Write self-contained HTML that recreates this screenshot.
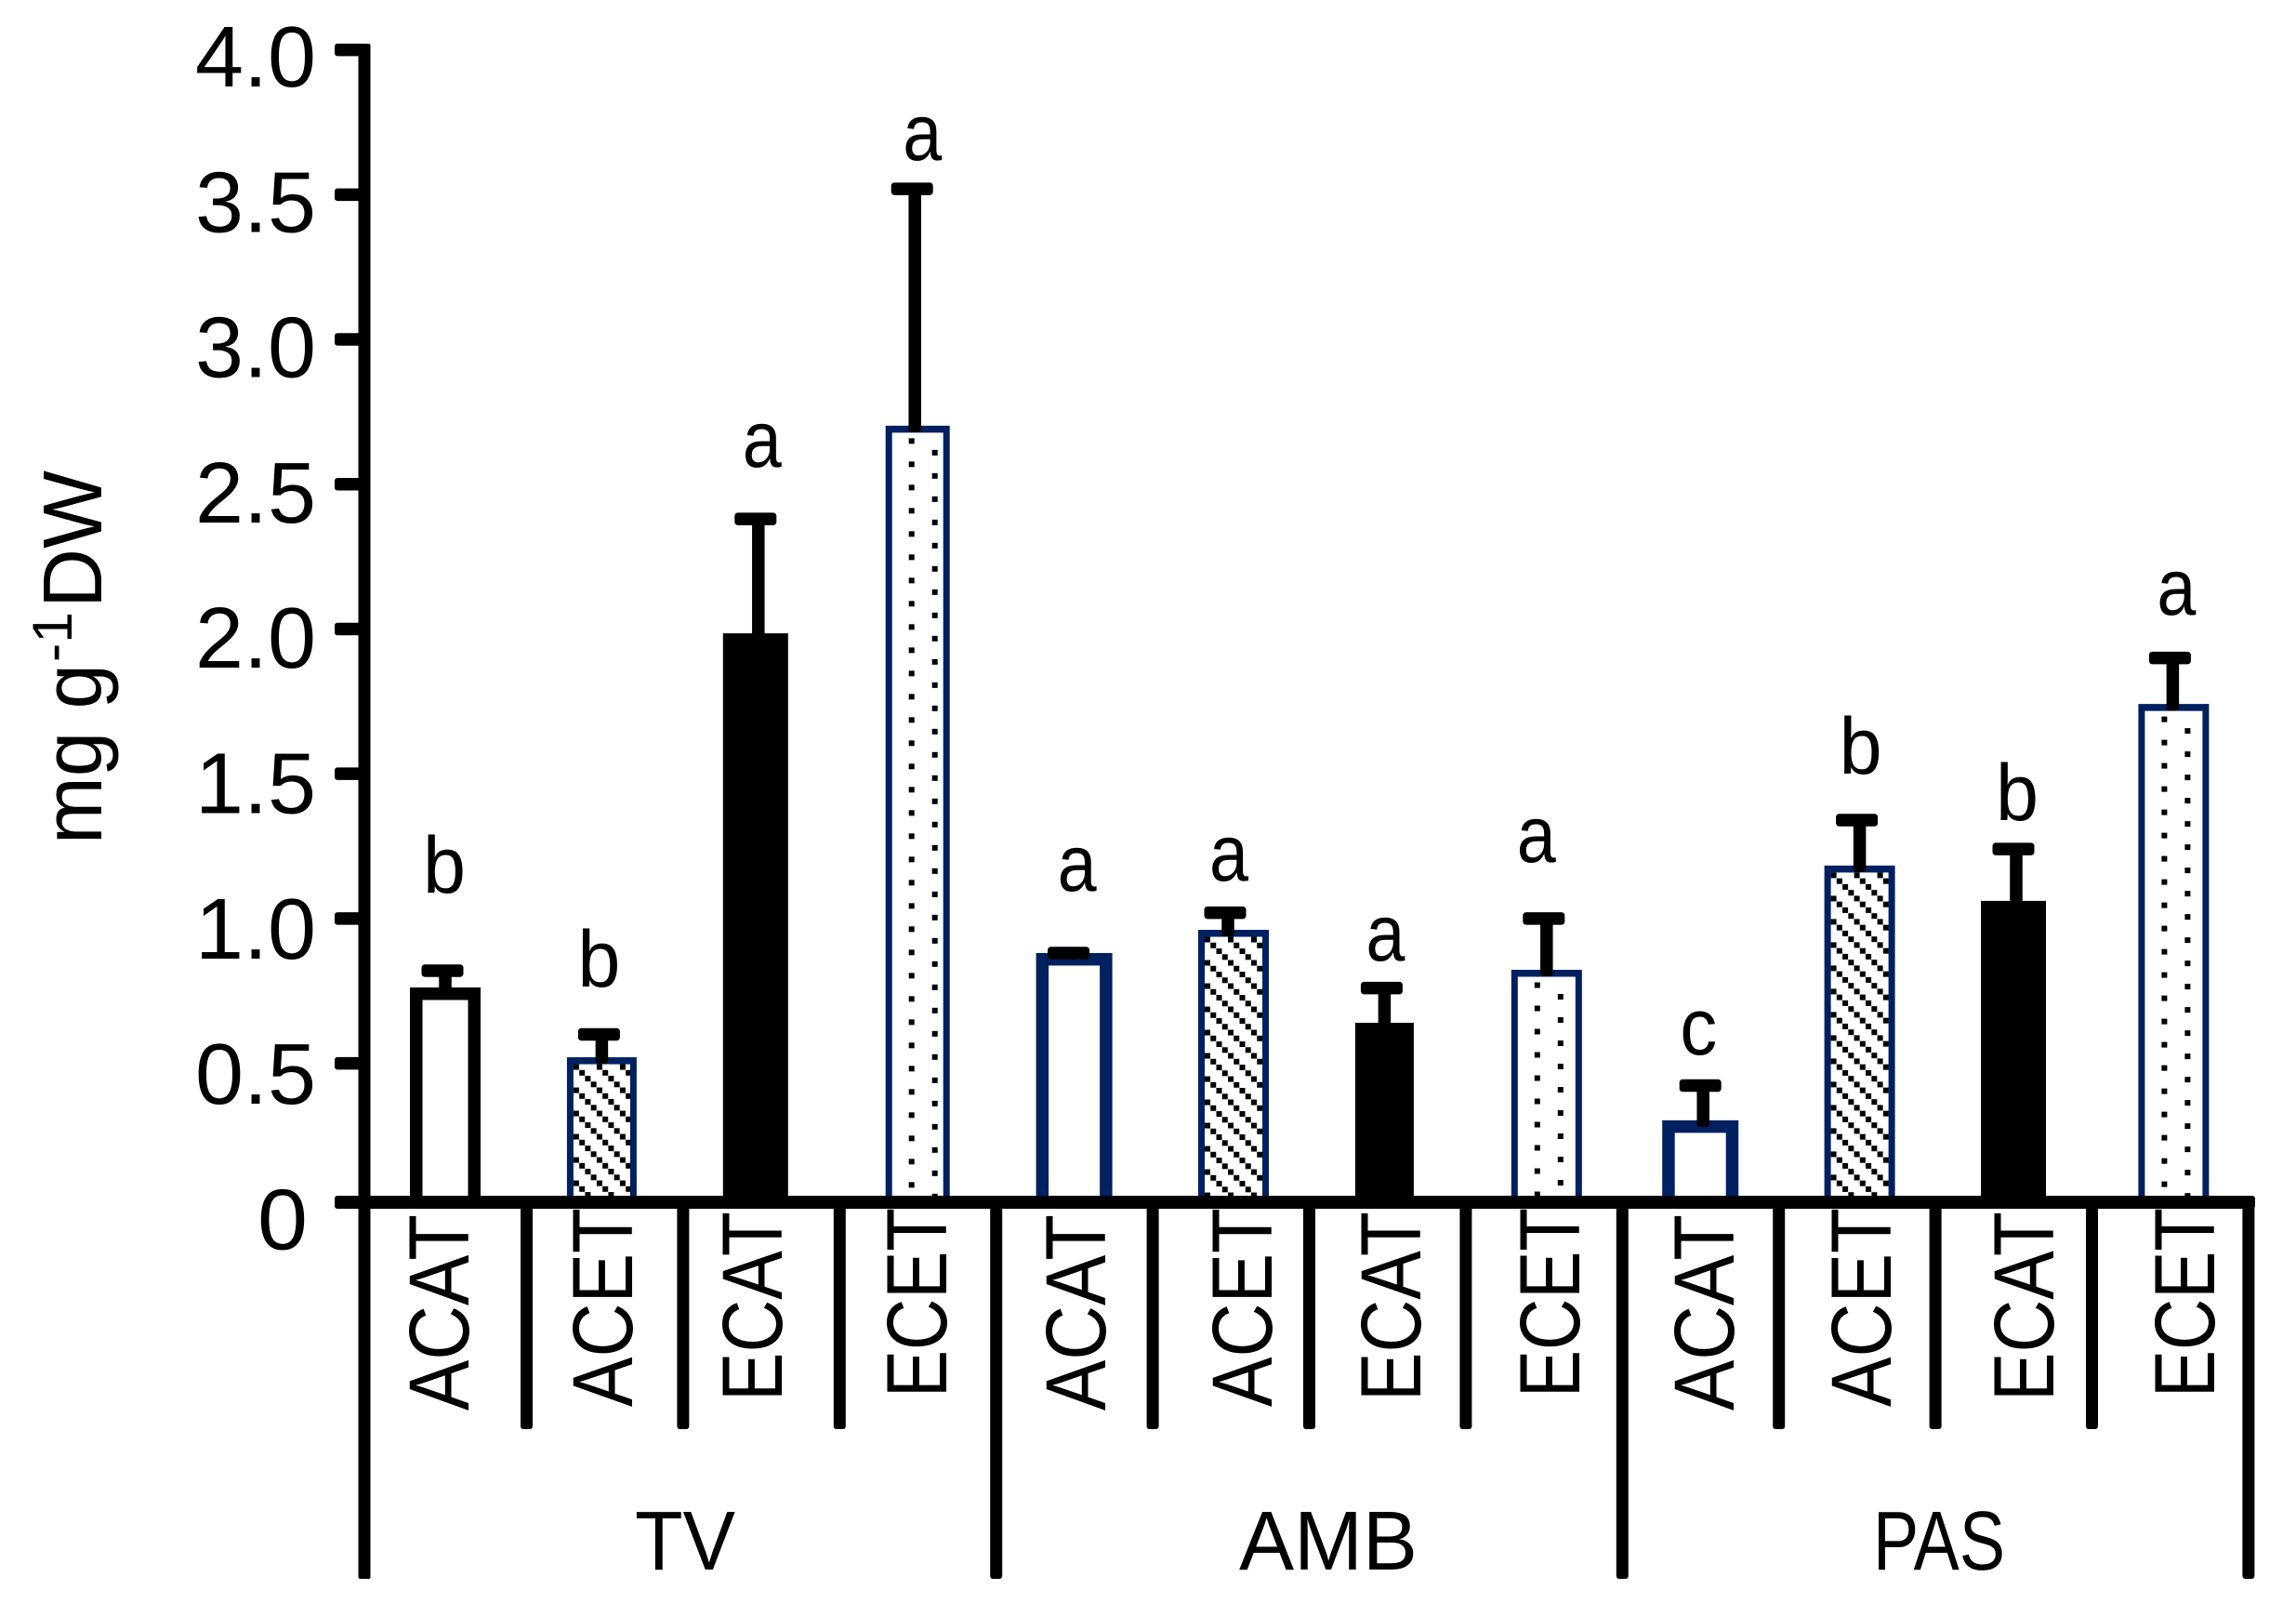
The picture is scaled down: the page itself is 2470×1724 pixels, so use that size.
<!DOCTYPE html>
<html lang="en">
<head>
<meta charset="utf-8">
<title>Bar chart: mg g-1 DW by treatment and site</title>
<style>
html,body{margin:0;padding:0;background:#fff;}
svg{display:block;}
text{font-family:"Liberation Sans",sans-serif;fill:#000;}
</style>
</head>
<body>
<svg id="chart" xmlns="http://www.w3.org/2000/svg" width="2470" height="1724" viewBox="0 0 2470 1724">
  <rect x="0" y="0" width="2470" height="1724" fill="#ffffff"/>
  <defs id="defs"></defs>
  <g id="bars"></g>
  <g id="errors"></g>
  <g id="axes"></g>
  <g id="letters"></g>
  <g id="xlabels"></g>
  <g id="ylabels"></g>
  <g>
    <text transform="translate(109 908) rotate(-90)" font-size="90" textLength="194" lengthAdjust="spacingAndGlyphs">mg g</text>
    <text transform="translate(77 712) rotate(-90)" font-size="60" textLength="54" lengthAdjust="spacingAndGlyphs">-1</text>
    <text transform="translate(109 654) rotate(-90)" font-size="90" textLength="148" lengthAdjust="spacingAndGlyphs">DW</text>
  </g>
</svg>
<script>
// ---- chart data ----
const treatments = ['ACAT','ACET','ECAT','ECET','ACAT','ACET','ECAT','ECET','ACAT','ACET','ECAT','ECET'];
const groups = ['TV','AMB','PAS'];
const meanValues = [0.762,0.521,1.985,2.702, 0.881,0.961,0.640,0.823, 0.295,1.183,1.061,1.741];
const errorValues = [0.058,0.079,0.395,0.818, 0.000,0.059,0.120,0.177, 0.125,0.157,0.179,0.159];
const sigLetters = ['b','b','a','a','a','a','a','a','c','b','b','a'];
const sigLetterLevels = [1.09,0.765,2.56,3.62, 1.096,1.131,0.855,1.196, 0.531,1.50,1.34,2.05];
const yTickValues = [0,0.5,1,1.5,2,2.5,3,3.5,4];
const yTickLabels = ['0','0.5','1.0','1.5','2.0','2.5','3.0','3.5','4.0'];

// ---- layout tuning (not data) ----
const barNudge    = [3,3,0,6, 6,9,3,9, 6,9,6,10];
const capNudge    = [0,0,0,0, 0,0,0,6, 6,6,6,6];
const letterNudge = [2,0,7,11, 9,4,4,-2, 4,10,10,13];
const labelNudge  = [28,35.6,28.2,36.8, 39.4,50,41.6,44.2, 41.8,42.4,49,53.6];
const barWidths   = [76,75,70,69, 82,76,63,76, 82,76,70,76];
const NAVY = '#002060';
const typeStyles = {
  ACAT:{stroke:13.5, inner:'#ffffff'},
  ACET:{stroke:7, inner:'hatch'},
  ECAT:{stroke:0, inner:'#000000'},
  ECET:{stroke:7, inner:'dots'}
};

// ---- axis functions ----
const Y_ZERO = 1293, Y_HALF = 1143.6, Y_TOP = 53.6;
function y(v){
  if(v <= 0.5) return Y_ZERO - (Y_ZERO - Y_HALF) * (v / 0.5);
  return Y_HALF - (Y_HALF - Y_TOP) * ((v - 0.5) / 3.5);
}
function yLabelBaseline(v){ return 1343.4 - 312.6 * v; }
function band(i){ return 476 + 168.4 * i; }
function dividerX(k){ return 398.1 + 168.4 * k; }

const NS = 'http://www.w3.org/2000/svg';
function make(tag, attrs, parent){
  const el = document.createElementNS(NS, tag);
  for(const k in attrs) el.setAttribute(k, attrs[k]);
  parent.appendChild(el);
  return el;
}
const defs = document.getElementById('defs');
const barsG = document.getElementById('bars');
const errG = document.getElementById('errors');
const axesG = document.getElementById('axes');
const lettersG = document.getElementById('letters');
const xlabG = document.getElementById('xlabels');
const ylabG = document.getElementById('ylabels');

// ---- bars ----
meanValues.forEach(function(v, i){
  const type = treatments[i];
  const style = typeStyles[type];
  const group = groups[Math.floor(i / 4)].toLowerCase();
  const w = barWidths[i];
  const cx = band(i) + barNudge[i];
  const left = cx - w / 2;
  const top = y(v);
  const base = Y_ZERO;
  const strokeColor = (style.stroke === 0 || i === 0) ? '#000000' : NAVY;
  const outer = make('rect', {x:left, y:top, width:w, height:base-top, fill:strokeColor}, barsG);
  
  
  if(style.stroke > 0){
    const s = style.stroke;
    const ix = left + s, iy = top + s + (s < 10 ? 0.5 : 0), iw = w - 2 * s, ih = base - iy;
    let fill = style.inner;
    if(style.inner === 'hatch' || style.inner === 'dots'){
      const id = 'pat' + i;
      const isHatch = style.inner === 'hatch';
      const pat = make('pattern', {id:id, patternUnits:'userSpaceOnUse', x:ix, y:iy, width:isHatch?25:50, height:25}, defs);
      
      
      make('rect', {x:0, y:0, width:isHatch?25:50, height:25, fill:'#ffffff'}, pat);
      const dots = isHatch ? [[0,0],[6.25,6.25],[12.5,12.5],[18.75,18.75]] : [[18,6],[43,18.5]];
      dots.forEach(function(d){
        make('rect', {x:d[0], y:d[1], width:6, height:6, fill:'#000000'}, pat);
      });
      fill = 'url(#' + id + ')';
    }
    const inner = make('rect', {x:ix, y:iy, width:iw, height:ih, fill:fill}, barsG);
    
    
  }
});

// ---- error bars ----
meanValues.forEach(function(v, i){
  const capY = y(v + errorValues[i]);
  const capX = band(i) + capNudge[i];
  const stemX = capX + 3;
  const stem = make('rect', {x:stemX-6.75, y:capY, width:13.5, height:Math.max(0, y(v)+7-capY), rx:3, fill:'#000000'}, errG);
  
  
  const cap = make('rect', {x:capX-22.5, y:capY-6.75, width:45, height:13.5, rx:3.5, fill:'#000000'}, errG);
  
  
});

// ---- axes ----
const yAxisLine = make('rect', {x:385.5, y:47, width:13, height:1651, rx:2, fill:'#000000'}, axesG);


const xAxisLine = make('rect', {x:360, y:1286, width:2066, height:14, rx:3, fill:'#000000'}, axesG);


yTickValues.forEach(function(t){
  const tick = make('rect', {x:360, y:y(t)-6.75, width:32, height:13.5, rx:3, fill:'#000000'}, axesG);
  
  
});
for(let k = 1; k <= 12; k++){
  const major = k % 4 === 0;
  const divider = make('rect', {x:dividerX(k)-6.5, y:1293, width:13, height:(major?1698:1537)-1293, rx:3, fill:'#000000'}, axesG);
  
  
}

// ---- significance letters ----
const letterWidths = {a:42, b:46, c:40};
sigLetters.forEach(function(letter, i){
  const t = make('text', {x:band(i)+letterNudge[i], y:y(sigLetterLevels[i]), 'font-size':86, 'text-anchor':'middle', textLength:letterWidths[letter], lengthAdjust:'spacingAndGlyphs'}, lettersG);
  
  
  t.textContent = letter;
});

// ---- x labels ----
const labelBottom = {ACAT:1517, ACET:1513, ECAT:1507, ECET:1503};
const labelLength = {ACAT:211, ACET:214, ECAT:204, ECET:204};
treatments.forEach(function(name, i){
  const bx = band(i) + labelNudge[i];
  const t = make('text', {transform:'translate(' + bx + ' ' + labelBottom[name] + ') rotate(-90)', 'font-size':92, textLength:labelLength[name], lengthAdjust:'spacingAndGlyphs'}, xlabG);
  
  
  t.textContent = name;
});
const groupCenters = [737, 1429, 2086];
const groupLengths = [108, 192, 142];
groups.forEach(function(name, g){
  const t = make('text', {x:groupCenters[g], y:1688, 'font-size':90, 'text-anchor':'middle', textLength:groupLengths[g], lengthAdjust:'spacingAndGlyphs'}, xlabG);
  
  
  t.textContent = name;
});

// ---- y labels ----
yTickValues.forEach(function(v, i){
  const single = yTickLabels[i].length === 1;
  const t = make('text', {x:single?277:210, y:yLabelBaseline(v), 'font-size':93, textLength:single?54:130, lengthAdjust:'spacingAndGlyphs'}, ylabG);
  
  
  t.textContent = yTickLabels[i];
});
</script>
</body>
</html>
